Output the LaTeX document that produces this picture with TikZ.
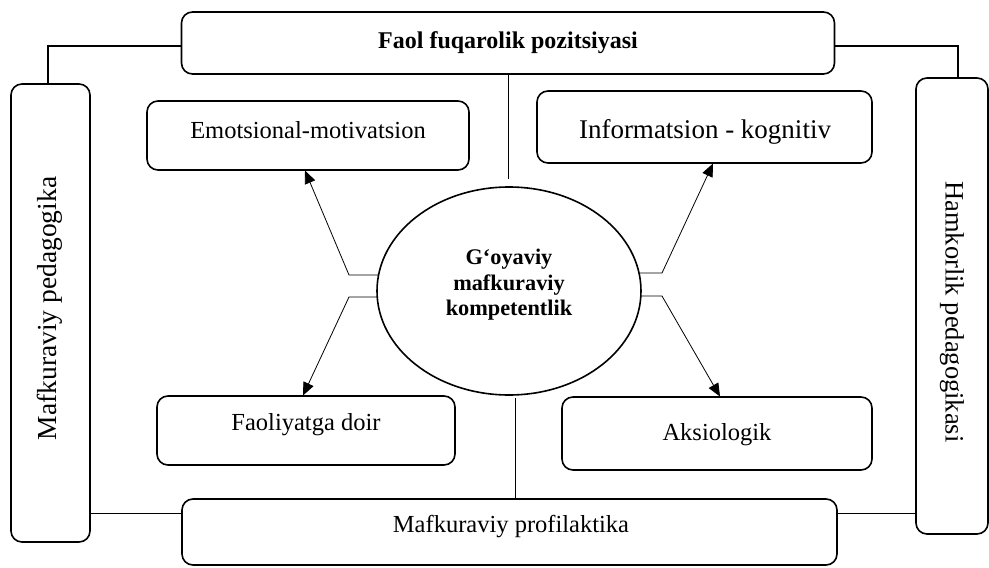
\documentclass[tikz,border=0pt]{standalone}
\usepackage{fontspec}
\setmainfont{Liberation Serif}
\usetikzlibrary{arrows.meta,shapes.geometric}
\begin{document}
\begin{tikzpicture}[x=1pt,y=-1pt,
  rbox/.style={draw,line width=1.6pt,rounded corners=11pt,inner sep=0pt,align=center},
  link/.style={line width=1.3pt},
  thin/.style={line width=0.8pt},
  arr/.style={line width=0.8pt,-{Triangle[length=13pt,width=11pt]}}]
\useasboundingbox (0,0) rectangle (989,568);
% boxes
\node[rbox,minimum width=653pt,minimum height=62pt,font=\fontsize{24}{28}\selectfont\bfseries] (top) at (508,43) {Faol fuqarolik pozitsiyasi};
\node[rbox,minimum width=79pt,minimum height=458pt] (lb) at (50.5,313) {};
\node[rotate=90,font=\fontsize{27.5}{31}\selectfont] (lbt) at (50,308.5) {Mafkuraviy pedagogika};
\node[rbox,minimum width=72pt,minimum height=456pt] (rb) at (952,306) {};
\node[rotate=-90,font=\fontsize{26.5}{31}\selectfont] (rbt) at (952,312) {Hamkorlik pedagogikasi};
\node[rbox,minimum width=655pt,minimum height=66pt] (bb) at (509.5,532) {};
\node[font=\fontsize{24.5}{28}\selectfont] (bbt) at (511,527) {Mafkuraviy profilaktika};
\node[rbox,minimum width=322pt,minimum height=69pt] (emo) at (308,135.5) {};
\node[font=\fontsize{24.5}{28}\selectfont] (emot) at (308,130) {Emotsional-motivatsion};
\node[rbox,minimum width=335pt,minimum height=72pt] (info) at (704.5,127) {};
\node[font=\fontsize{27}{31}\selectfont] (infot) at (705,132) {Informatsion - kognitiv};
\node[rbox,minimum width=298pt,minimum height=69pt] (fd) at (306,430.5) {};
\node[font=\fontsize{24.5}{28}\selectfont] (fdt) at (306,425) {Faoliyatga doir};
\node[rbox,minimum width=310pt,minimum height=73pt] (ak) at (717,433.5) {};
\node[font=\fontsize{24.5}{28}\selectfont] (akt) at (717,435) {Aksiologik};
% ellipse
\node[draw,ellipse,line width=1.6pt,minimum width=264pt,minimum height=208pt,inner sep=0pt] (el) at (509,291) {};
\node[align=center,inner sep=0pt,font=\fontsize{22.3}{25.5}\selectfont\bfseries] (elt) at (509,285) {G‘oyaviy\\mafkuraviy\\kompetentlik};
% outer links
\draw[link] (top.west |- 0,46) -| (lb.north -| 48,0);
\draw[link] (top.east |- 0,46) -| (rb.north -| 958,0);
\draw[thin] (lb.east |- 0,513) -- (bb.west |- 0,513);
\draw[thin] (bb.east |- 0,513) -- (rb.west |- 0,513);
\coordinate (vt) at (508,179);
\draw[thin] (top.south -| vt) -- (vt);
\coordinate (vb) at (515,398);
\draw[thin] (vb) -- (bb.north -| vb);
% arrows
\coordinate (a1) at (378,275); \coordinate (b1) at (349,275); \coordinate (t1) at (305,170.5);
\coordinate (a2) at (378,297); \coordinate (b2) at (349,297); \coordinate (t2) at (303,395.5);
\coordinate (a3) at (640,273); \coordinate (b3) at (662,273); \coordinate (t3) at (713,163.5);
\coordinate (a4) at (640,296); \coordinate (b4) at (662,296); \coordinate (t4) at (720,396.5);
\draw[arr] (a1) -- (b1) -- (t1);
\draw[arr] (a2) -- (b2) -- (t2);
\draw[arr] (a3) -- (b3) -- (t3);
\draw[arr] (a4) -- (b4) -- (t4);
\end{tikzpicture}
\end{document}
